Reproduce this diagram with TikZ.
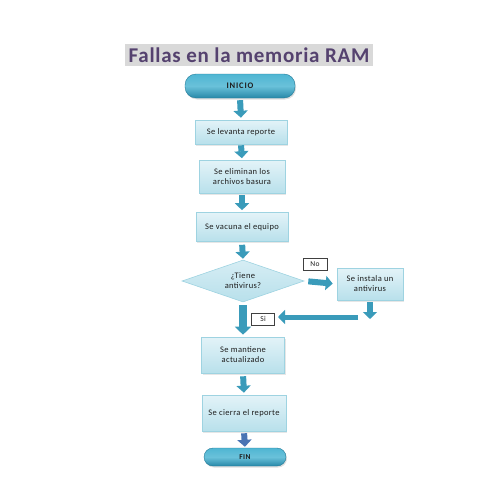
\documentclass[tikz,border=0pt]{standalone}
\usepackage{fontspec}
\setmainfont{Carlito}
\usetikzlibrary{arrows.meta,shapes.geometric,shadows}
\definecolor{titlecol}{HTML}{55426F}
\definecolor{titlebg}{HTML}{D9D9D9}
\definecolor{boxtop}{HTML}{E3F3F8}
\definecolor{boxbot}{HTML}{B8E0EB}
\definecolor{boxline}{HTML}{9ED3E1}
\definecolor{tealdark}{HTML}{2788A8}
\definecolor{teallight}{HTML}{4FB6D3}
\definecolor{arrowcol}{HTML}{3A9BBA}
\definecolor{bluearrow}{HTML}{4A74B4}
\definecolor{txt}{HTML}{1E1E1E}
\tikzset{
  titlebox/.style={fill=titlebg, text=titlecol, font=\fontsize{21}{24}\selectfont\bfseries\addfontfeature{LetterSpace=3.5},
    minimum width=248pt, minimum height=22pt, inner sep=0pt},
  stadium/.style={rounded corners=11pt, top color=teallight, bottom color=tealdark,
    middle color=teallight!85!white, draw=tealdark!90!black, line width=0.4pt,
    text=txt, font=\fontsize{8.5}{9}\selectfont\bfseries\addfontfeature{LetterSpace=10},
    drop shadow={shadow xshift=1pt, shadow yshift=-1.5pt, opacity=0.25}},
  proc/.style={top color=boxtop, bottom color=boxbot, draw=boxline, line width=0.6pt,
    text=txt, font=\fontsize{8.5}{10}\selectfont\addfontfeature{LetterSpace=4}, align=center, inner sep=1pt,
    drop shadow={shadow xshift=1pt, shadow yshift=-1.5pt, opacity=0.2}},
  decision/.style={diamond, aspect=2.9, inner sep=0pt, top color=boxtop!70!boxbot, bottom color=boxbot,
    draw=boxline, line width=0.6pt, text=txt, font=\fontsize{8.5}{10}\selectfont\addfontfeature{LetterSpace=4}, align=center},
  lbl/.style={draw=black!75, fill=white, line width=0.5pt, text=txt,
    font=\fontsize{7.5}{8}\selectfont\addfontfeature{LetterSpace=4}, inner sep=0pt},
  blockarrow/.style={draw=arrowcol, line width=6pt,
    -{Triangle[width=14pt,length=7pt]}},
  bigarrow/.style={draw=arrowcol, line width=8pt,
    -{Triangle[width=16pt,length=8pt]}}
}
\begin{document}
\begin{tikzpicture}[x=1pt,y=-1pt]
\useasboundingbox (0,0) rectangle (495,495);
\node[titlebox] (title) at (249,55) {Fallas en la memoria RAM};
\node[stadium, minimum width=110pt, minimum height=24pt] (inicio) at (240,86) {INICIO};
\node[proc, minimum width=92pt, minimum height=24pt] (b1) at (241,132) {Se levanta reporte};
\node[proc, minimum width=86pt, minimum height=33pt] (b2) at (242,177) {Se eliminan los\\archivos basura};
\node[proc, minimum width=92pt, minimum height=29pt] (b3) at (242,227) {Se vacuna el equipo};
\node[decision, minimum width=122pt, minimum height=42pt] (d) at (243,281) {¿Tiene\\antivirus?};
\node[lbl, minimum width=24pt, minimum height=12pt] (no) at (315,264) {No};
\node[proc, minimum width=66pt, minimum height=32pt] (inst) at (370,284) {Se instala un\\antivirus};
\node[lbl, minimum width=23pt, minimum height=12pt] (si) at (263,319) {Si};
\node[proc, minimum width=83pt, minimum height=36pt] (mant) at (243,355) {Se mantiene\\actualizado};
\node[proc, minimum width=84pt, minimum height=36pt] (cierra) at (244,413) {Se cierra el reporte};
\node[stadium, minimum width=82pt, minimum height=18pt, rounded corners=9pt,
  font=\fontsize{7.5}{8}\selectfont\bfseries\addfontfeature{LetterSpace=6}] (fin) at (245,457) {FIN};
\coordinate (instdown) at (370,319);
\coordinate (lstart) at (358,317);
\coordinate (lend) at (278,317);
\draw[blockarrow, shorten <=2pt, shorten >=2pt] (inicio.south) -- (b1.north);
\draw[blockarrow, shorten <=1pt, shorten >=2pt] (b1.south) -- (b2.north);
\draw[blockarrow, shorten <=1pt, shorten >=2pt] (b2.south) -- (b3.north);
\draw[blockarrow, shorten <=3pt, shorten >=1pt] (b3.south) -- (d.north);
\draw[bigarrow, shorten <=3pt, shorten >=2pt] (d.south) -- (mant.north);
\draw[blockarrow, shorten <=3pt, shorten >=2pt] (mant.south) -- (cierra.north);
\draw[blockarrow, draw=bluearrow, shorten <=2pt, shorten >=1pt] (cierra.south) -- (fin.north);
\draw[blockarrow, shorten <=4pt, shorten >=4pt] (d.east) -- (inst.west);
\draw[blockarrow, shorten <=2pt] (inst.south) -- (instdown);
\draw[blockarrow, line width=5pt] (lstart) -- (lend);
\end{tikzpicture}
\end{document}
